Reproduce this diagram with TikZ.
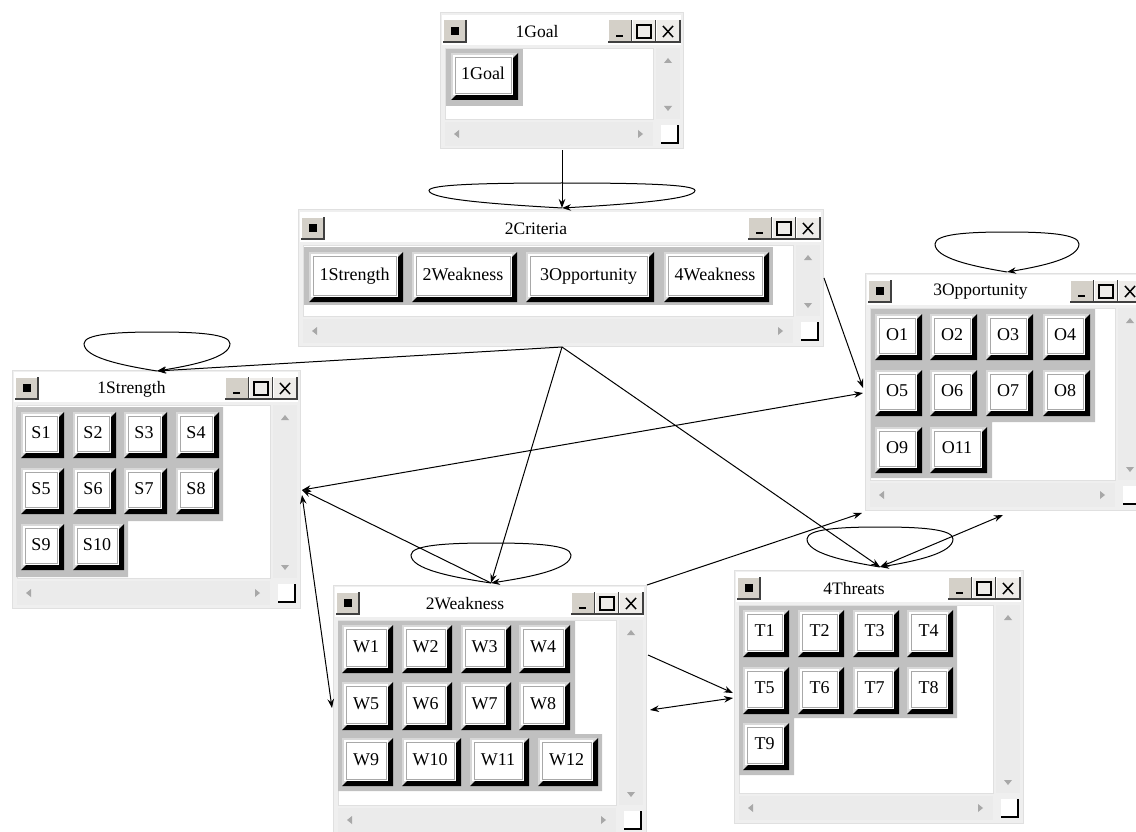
\documentclass[tikz,border=0pt]{standalone}
\usepackage{fontspec}
\setmainfont{Liberation Serif}
\usetikzlibrary{arrows.meta,calc}
\definecolor{winbg}{HTML}{EFEFEF}
\definecolor{winedge}{HTML}{E0E0E0}
\definecolor{gridgrey}{HTML}{C0C0C0}
\definecolor{btnface}{HTML}{D4D0C8}
\definecolor{scrollbg}{HTML}{EBEBEB}
\definecolor{tri}{HTML}{A8A8A8}
\definecolor{bevel}{HTML}{A8A8A8}
\definecolor{bevellight}{HTML}{D8D8D8}
\tikzset{
  winframe/.style={draw=winedge, fill=winbg, line width=1pt, inner sep=0, outer sep=0},
  wintitle/.style={font=\fontsize{17.5}{20}\selectfont, inner sep=0},
  chromebtn/.style={fill=btnface, draw=none, inner sep=0, outer sep=0, minimum width=23, minimum height=22},
  itembtn/.style={fill=white, draw=bevel, line width=0.9pt, inner sep=0, outer sep=0,
    font=\fontsize{18}{20}\selectfont, text height=12.5pt, text depth=3.5pt},
  conn/.style={line width=1pt, -{Stealth[length=9pt,width=6.5pt]}},
  conntwo/.style={line width=1pt, {Stealth[length=9pt,width=6.5pt]}-{Stealth[length=9pt,width=6.5pt]}},
}
\newcommand\mkwin[6]{%
  \node[winframe, anchor=north west, minimum width={#4-#2}, minimum height={#5-#3}] (#1) at (#2,#3) {};
  \fill[white] (#2+2,#3+2) rectangle (#4-2,#3+32);
  \fill[white] (#2+5,#3+35) rectangle (#4-30,#5-30);
  \draw[winedge] (#2+5,#3+35) rectangle (#4-30,#5-30);
  \fill[scrollbg] (#4-27,#3+35) rectangle (#4-3,#5-30);
  \fill[scrollbg] (#2+5,#5-27) rectangle (#4-30,#5-3);
  \fill[tri] (#4-15,#3+45) -- (#4-19,#3+50) -- (#4-11,#3+50) -- cycle;
  \fill[tri] (#4-15,#5-38) -- (#4-19,#5-43) -- (#4-11,#5-43) -- cycle;
  \fill[tri] (#2+14,#5-15) -- (#2+19,#5-19) -- (#2+19,#5-11) -- cycle;
  \fill[tri] (#4-40,#5-15) -- (#4-45,#5-19) -- (#4-45,#5-11) -- cycle;
  \fill[white] (#4-22,#5-24) rectangle (#4-5,#5-6);
  \draw[black, line width=1.2pt] (#4-22,#5-6) -- (#4-5,#5-6) -- (#4-5,#5-24);
  \node[chromebtn, anchor=north west] (#1-icon) at (#2+3,#3+7) {};
  \node[chromebtn, anchor=north west, minimum width=24] (#1-min) at (#4-75,#3+7) {};
  \node[chromebtn, anchor=north west, minimum width=24, fill=white!60!btnface] (#1-max) at (#4-51,#3+7) {};
  \node[chromebtn, anchor=north west, minimum width=24, fill=white!60!btnface] (#1-cls) at (#4-27,#3+7) {};
  \foreach \n in {icon,min,max,cls}{%
    \draw[white, line width=1pt] (#1-\n.south west) -- (#1-\n.north west) -- (#1-\n.north east);
    \draw[black!75, line width=1.5pt] (#1-\n.north east) -- (#1-\n.south east) -- (#1-\n.south west);
  }
  \fill[black] ($(#1-icon.center)+(-4,-4)$) rectangle ($(#1-icon.center)+(4,4)$);
  \draw[line width=2.2pt] ($(#1-min.center)+(-4,5)$) -- ($(#1-min.center)+(3,5)$);
  \draw[line width=1.2pt] ($(#1-max.center)+(-7,-6)$) rectangle ($(#1-max.center)+(7,7)$);
  \draw[line width=2pt] ($(#1-max.center)+(-7,-6)$) -- ($(#1-max.center)+(7,-6)$);
  \draw[line width=1.5pt] ($(#1-cls.center)+(-5,-5)$) -- ($(#1-cls.center)+(5,6)$);
  \draw[line width=1.5pt] ($(#1-cls.center)+(5,-5)$) -- ($(#1-cls.center)+(-5,6)$);
  \node[wintitle] (#1-title) at ({(#2+#4-49)/2}, #3+19) {#6};
}
% item button: name, x, y, total width, total height, text
\newcommand\itembox[6]{%
  \fill[bevellight] (#2,#3) rectangle (#2+#4,#3+#5);
  \fill[black] (#2+#4,#3) -- (#2+#4,#3+#5) -- (#2,#3+#5) -- (#2+5,#3+#5-5) -- (#2+#4-5,#3+5) -- cycle;
  \fill[white] (#2+2,#3+2) rectangle (#2+#4-5,#3+#5-5);
  \node[itembtn, anchor=north west, minimum width={#4-11}, minimum height={#5-11}] (#1) at (#2+4,#3+4) {#6};}
\newcommand\selfloop[3]{%
  \draw[conn] (#1) .. controls ($(#1)+({-0.5*#2},{-0.15*#3})$) and ($(#1)+(-#2,{-0.35*#3})$) .. ($(#1)+(-#2,{-0.7*#3})$)
   .. controls ($(#1)+(-#2,{-0.95*#3})$) and ($(#1)+({-0.55*#2},-#3)$) .. ($(#1)+(0,-#3)$)
   .. controls ($(#1)+({0.55*#2},-#3)$) and ($(#1)+(#2,{-0.95*#3})$) .. ($(#1)+(#2,{-0.7*#3})$)
   .. controls ($(#1)+(#2,{-0.35*#3})$) and ($(#1)+({0.5*#2},{-0.15*#3})$) .. (#1);}
\begin{document}
\begin{tikzpicture}[x=1pt,y=-1pt]
\clip (0,0) rectangle (1136,832);
\fill[white] (0,0) rectangle (1136,832);
% ---------- windows ----------
\mkwin{goal}{440}{13}{683}{149}{1Goal}
\fill[gridgrey] (446,49) rectangle (523,106);
\itembox{g1}{451}{53}{67}{47}{1Goal}

\mkwin{crit}{298}{210}{823}{346}{2Criteria}
\fill[gridgrey] (304,247) rectangle (773,305);
\itembox{c1}{309}{252}{94}{50}{1Strength}
\itembox{c2}{412}{252}{105}{50}{2Weakness}
\itembox{c3}{526}{252}{128}{50}{3Opportunity}
\itembox{c4}{664}{252}{105}{50}{4Weakness}

\mkwin{str}{12}{370}{300}{608}{1Strength}
\fill[gridgrey] (16,407) -- (223,407) -- (223,521) -- (128,521) -- (128,577) -- (16,577) -- cycle;
\itembox{s1}{21}{412}{43}{46}{S1}
\itembox{s2}{73}{412}{43}{46}{S2}
\itembox{s3}{124}{412}{43}{46}{S3}
\itembox{s4}{176}{412}{43}{46}{S4}
\itembox{s5}{21}{468}{43}{46}{S5}
\itembox{s6}{73}{468}{43}{46}{S6}
\itembox{s7}{124}{468}{43}{46}{S7}
\itembox{s8}{176}{468}{43}{46}{S8}
\itembox{s9}{21}{524}{43}{46}{S9}
\itembox{s10}{73}{524}{51}{46}{S10}

\mkwin{opp}{865}{273}{1145}{510}{3Opportunity}
\fill[gridgrey] (871,309) -- (1095,309) -- (1095,422) -- (992,422) -- (992,478) -- (871,478) -- cycle;
\itembox{o1}{875}{314}{47}{46}{O1}
\itembox{o2}{930}{314}{47}{46}{O2}
\itembox{o3}{986}{314}{47}{46}{O3}
\itembox{o4}{1043}{314}{47}{46}{O4}
\itembox{o5}{875}{370}{47}{46}{O5}
\itembox{o6}{930}{370}{47}{46}{O6}
\itembox{o7}{986}{370}{47}{46}{O7}
\itembox{o8}{1043}{370}{47}{46}{O8}
\itembox{o9}{875}{427}{47}{46}{O9}
\itembox{o11}{930}{427}{57}{46}{O11}

\mkwin{weak}{333}{585}{646}{835}{2Weakness}
\fill[gridgrey] (338,621) -- (575,621) -- (575,734) -- (602,734) -- (602,791) -- (338,791) -- cycle;
\itembox{w1}{342}{625}{51}{48}{W1}
\itembox{w2}{402}{625}{50}{48}{W2}
\itembox{w3}{461}{625}{50}{48}{W3}
\itembox{w4}{519}{625}{51}{48}{W4}
\itembox{w5}{342}{682}{51}{48}{W5}
\itembox{w6}{402}{682}{50}{48}{W6}
\itembox{w7}{461}{682}{50}{48}{W7}
\itembox{w8}{519}{682}{51}{48}{W8}
\itembox{w9}{342}{738}{51}{48}{W9}
\itembox{w10}{402}{738}{59}{48}{W10}
\itembox{w11}{470}{738}{59}{48}{W11}
\itembox{w12}{538}{738}{60}{48}{W12}

\mkwin{thr}{734}{570}{1023}{823}{4Threats}
\fill[gridgrey] (739,606) -- (957,606) -- (957,718) -- (794,718) -- (794,775) -- (739,775) -- cycle;
\itembox{t1}{743}{610}{46}{47}{T1}
\itembox{t2}{798}{610}{46}{47}{T2}
\itembox{t3}{853}{610}{46}{47}{T3}
\itembox{t4}{907}{610}{46}{47}{T4}
\itembox{t5}{743}{667}{46}{47}{T5}
\itembox{t6}{798}{667}{46}{47}{T6}
\itembox{t7}{853}{667}{46}{47}{T7}
\itembox{t8}{907}{667}{46}{47}{T8}
\itembox{t9}{743}{723}{46}{47}{T9}

% ---------- ports ----------
\coordinate (goalS) at ($(goal.south west)+(122,1)$);
\coordinate (critN) at ($(crit.north west)+(264,-2)$);
\coordinate (critS) at ($(crit.south west)+(264,1)$);
\coordinate (critE) at ($(crit.north east)+(1,68)$);
\coordinate (strN) at ($(str.north west)+(145,1)$);
\coordinate (strE) at ($(str.north east)+(2,120)$);
\coordinate (strE2) at ($(str.north east)+(2,125)$);
\coordinate (oppN) at ($(opp.north west)+(142,-1)$);
\coordinate (oppW) at ($(opp.north west)+(-2,115)$);
\coordinate (oppW2) at ($(opp.north west)+(-2,120)$);
\coordinate (oppSW) at ($(opp.south west)+(-3,3)$);
\coordinate (oppS) at ($(opp.south west)+(138,5)$);
\coordinate (weakN) at ($(weak.north west)+(158,-2)$);
\coordinate (weakNE) at ($(weak.north east)+(1,0)$);
\coordinate (weakE1) at ($(weak.north east)+(2,70)$);
\coordinate (weakE2) at ($(weak.north east)+(4,125)$);
\coordinate (weakW) at ($(weak.north west)+(-1,123)$);
\coordinate (thrN) at ($(thr.north west)+(146,-3)$);
\coordinate (thrW1) at ($(thr.north west)+(-1,123)$);
\coordinate (thrW2) at ($(thr.north west)+(-1,128)$);

% ---------- connectors ----------
\draw[conn] (goalS) -- (critN);
\selfloop{critN}{133}{25}
\draw[conn] (critS) -- (strN);
\selfloop{strN}{73}{39}
\draw[conn] (critS) -- (weakN);
\draw[conn] (critS) -- (thrN);
\draw[conn] (critE) -- (oppW);
\selfloop{oppN}{72}{40}
\draw[conntwo] (strE) -- (oppW2);
\draw[conn] (weakN) -- (strE);
\draw[conntwo] (strE2) -- (weakW);
\selfloop{weakN}{80}{40}
\draw[conn] (weakNE) -- (oppSW);
\draw[conntwo] (thrN) -- (oppS);
\selfloop{thrN}{73}{40}
\draw[conn] (weakE1) -- (thrW1);
\draw[conntwo] (weakE2) -- (thrW2);
\end{tikzpicture}
\end{document}
